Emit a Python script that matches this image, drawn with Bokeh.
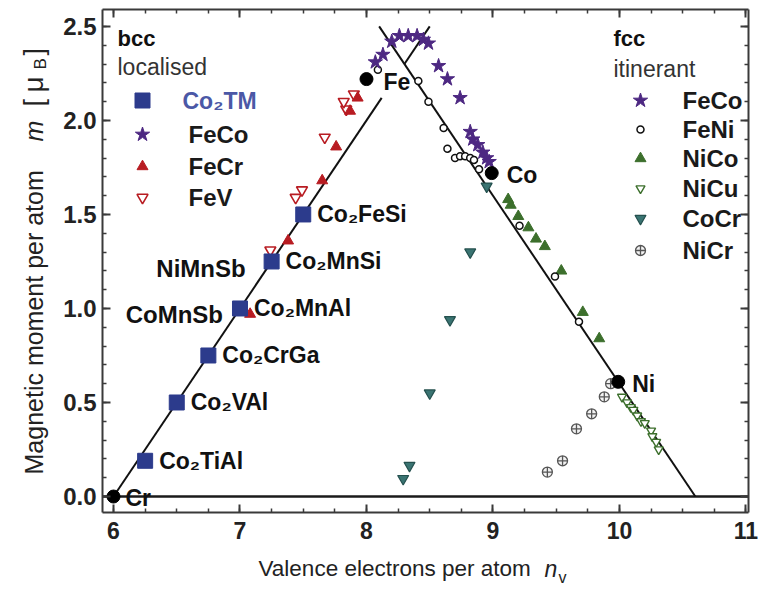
import math
from bokeh.plotting import figure
from bokeh.models import Range1d, LinearAxis, SingleIntervalTicker, PrintfTickFormatter
from bokeh.core.properties import value
from bokeh.embed import file_html
from bokeh.resources import INLINE

# ---------------- data ----------------
element_names = ["Cr", "Fe", "Co", "Ni"]
element_nv = [6.0, 8.0, 8.99, 9.99]
element_m = [0.0, 2.22, 1.72, 0.61]

heusler_names = ["Co₂TiAl", "Co₂VAl", "Co₂CrGa", "Co₂MnAl", "Co₂MnSi", "Co₂FeSi"]
heusler_nv = [6.25, 6.5, 6.75, 7.0, 7.25, 7.5]
heusler_m = [0.19, 0.5, 0.75, 1.0, 1.25, 1.5]

halfheusler_names = ["NiMnSb", "CoMnSb"]
halfheusler_nv = [7.25, 7.0]
halfheusler_m = [1.25, 1.0]

feco_bcc_nv = [8.07, 8.13, 8.20, 8.26, 8.33, 8.40, 8.45, 8.49]
feco_bcc_m = [2.31, 2.35, 2.42, 2.45, 2.45, 2.45, 2.43, 2.41]
fecr_nv = [7.08, 7.38, 7.65, 7.76, 7.87, 7.93]
fecr_m = [0.97, 1.36, 1.68, 1.86, 2.05, 2.12]
fev_nv = [7.24, 7.44, 7.49, 7.67, 7.84, 7.82, 7.90]
fev_m = [1.31, 1.59, 1.63, 1.91, 2.06, 2.10, 2.14]

feco_fcc_nv = [8.57, 8.64, 8.74, 8.82, 8.84, 8.88, 8.92, 8.95, 8.97]
feco_fcc_m = [2.29, 2.22, 2.12, 1.94, 1.90, 1.87, 1.83, 1.80, 1.78]
feni_nv = [8.09, 8.41, 8.49, 8.61, 8.64, 8.70, 8.74, 8.78, 8.82, 8.85, 8.89, 9.21, 9.49, 9.68]
feni_m = [2.27, 2.21, 2.10, 1.96, 1.85, 1.80, 1.81, 1.81, 1.80, 1.79, 1.74, 1.44, 1.17, 0.93]
nico_nv = [9.12, 9.14, 9.20, 9.28, 9.34, 9.41, 9.54, 9.71, 9.84]
nico_m = [1.58, 1.55, 1.49, 1.43, 1.37, 1.33, 1.20, 0.98, 0.84]
nicu_nv = [10.02, 10.06, 10.09, 10.11, 10.14, 10.17, 10.20, 10.25, 10.26, 10.29, 10.31]
nicu_m = [0.53, 0.50, 0.475, 0.46, 0.43, 0.40, 0.39, 0.35, 0.32, 0.29, 0.25]
cocr_nv = [8.95, 8.82, 8.66, 8.50, 8.34, 8.29]
cocr_m = [1.65, 1.30, 0.94, 0.55, 0.165, 0.095]
nicr_nv = [9.93, 9.88, 9.78, 9.66, 9.55, 9.43]
nicr_m = [0.60, 0.53, 0.44, 0.36, 0.19, 0.13]

# Slater-Pauling branches (end points)
local_nv_a = [6.0, 8.12]
local_m_a = [0.0, 2.12]
local_nv_b = [8.30, 8.50]
local_m_b = [2.30, 2.50]
itin_nv = [8.10, 10.60]
itin_m = [2.50, 0.0]

bcc_legend = ["Co₂TM", "FeCo", "FeCr", "FeV"]
fcc_legend = ["FeCo", "FeNi", "NiCo", "NiCu", "CoCr", "NiCr"]

x_ticks_interval = 1
y_ticks_interval = 0.5

# ---------------- layout ----------------
W, H = 758, 590
X_MIN, X_MAX = 5.913, 11.02      # visible box
Y_MIN, Y_MAX = -0.085, 2.59
FW, FH = 646, 503                 # box size in px
BL, BR, BT, BB = 102, 10, 9, 78   # box margins in px
KX = (X_MAX - X_MIN) / FW
KY = (Y_MAX - Y_MIN) / FH

def xd(px):
    return X_MIN + (px - BL) * KX

def yd(py):
    return Y_MAX - (py - BT) * KY

FONT_NAME = "Liberation Sans"
FONT = value(FONT_NAME)
PURPLE = "#4d2882"
BLUE = "#2c3b8c"
RED = "#b81c22"
GREEN = "#3c6f2c"
TEAL = "#3a7472"
GRAY = "#555555"
FRAME = "#3a3a3a"

p = figure(width=W, height=H,
           x_range=Range1d(xd(0), xd(W)), y_range=Range1d(yd(H), yd(0)),
           x_axis_type=None, y_axis_type=None,
           output_backend="svg", toolbar_location=None, min_border=0)
p.grid.visible = False
p.outline_line_color = None
p.background_fill_color = "white"
p.border_fill_color = "white"

def make_axis(loc, bounds, ticker, show_labels, formatter=None):
    ax = LinearAxis(fixed_location=loc, bounds=bounds, ticker=ticker)
    if formatter is not None:
        ax.formatter = formatter
    ax.major_tick_in = 8
    ax.major_tick_out = 0
    ax.minor_tick_in = 4
    ax.minor_tick_out = 0
    ax.axis_line_color = FRAME
    ax.axis_line_width = 2
    ax.major_tick_line_color = FRAME
    ax.major_tick_line_width = 2
    ax.minor_tick_line_color = FRAME
    ax.minor_tick_line_width = 1.5
    if show_labels:
        ax.major_label_text_font = FONT_NAME
        ax.major_label_text_font_style = "bold"
        ax.major_label_text_font_size = "23px"
        ax.major_label_text_color = "#222222"
    else:
        ax.major_label_text_font_size = "0px"
        ax.major_label_text_color = None
        ax.major_label_standoff = 0
    return ax

xt = lambda: SingleIntervalTicker(interval=x_ticks_interval, num_minor_ticks=4)
yt = lambda: SingleIntervalTicker(interval=y_ticks_interval, num_minor_ticks=5)

xb = make_axis(Y_MIN, (X_MIN, X_MAX), xt(), True)
xb.major_label_standoff = 9
p.add_layout(xb, "below")
p.add_layout(make_axis(Y_MAX, (X_MIN, X_MAX), xt(), False), "above")
yl = make_axis(X_MIN, (Y_MIN, Y_MAX), yt(), True, PrintfTickFormatter(format="%.1f"))
yl.major_label_standoff = 6
yl.major_label_text_font_size = "24px"
p.add_layout(yl, "left")
p.add_layout(make_axis(X_MAX, (Y_MIN, Y_MAX), yt(), False), "right")

# zero line across the box
p.line([X_MIN, X_MAX], [0, 0], line_color="#1a1a1a", line_width=2.5)

# Slater-Pauling lines
for xs, ys in [(local_nv_a, local_m_a), (local_nv_b, local_m_b), (itin_nv, itin_m)]:
    p.line(xs, ys, line_color="#111111", line_width=2)

# data points
p.scatter(fev_nv, fev_m, marker="inverted_triangle", size=11, fill_color="white", line_color=RED, line_width=1.6)
p.scatter(fecr_nv, fecr_m, marker="triangle", size=11, fill_color=RED, line_color=RED)
p.scatter(cocr_nv, cocr_m, marker="inverted_triangle", size=11, fill_color=TEAL, line_color="#24504e", line_width=1.2)
p.scatter(nicr_nv, nicr_m, marker="circle_cross", size=10, fill_color="#f2f2f2", line_color=GRAY, line_width=1.3)
p.scatter(nicu_nv, nicu_m, marker="inverted_triangle", size=9, fill_color="white", line_color=GREEN, line_width=1.4)
p.scatter(nico_nv, nico_m, marker="triangle", size=11, fill_color=GREEN, line_color=GREEN)
p.scatter(feni_nv, feni_m, marker="circle", size=7, fill_color="white", line_color="#111111", line_width=1.5)
p.scatter(feco_bcc_nv, feco_bcc_m, marker="star", size=15, fill_color=PURPLE, line_color=PURPLE)
p.scatter(feco_fcc_nv, feco_fcc_m, marker="star", size=15, fill_color=PURPLE, line_color=PURPLE)
p.scatter(heusler_nv, heusler_m, marker="square", size=15, fill_color=BLUE, line_color=BLUE)
p.scatter(element_nv, element_m, marker="circle", size=13, fill_color="black", line_color="black")

def txt(x, y, t, size="23px", style="bold", color="#111111", align="left",
        baseline="middle", xo=0, yo=0, angle=0.0):
    p.text(x=x, y=y, text=t, text_font=FONT, text_font_style=style, text_font_size=size,
           text_color=color, text_align=align, text_baseline=baseline,
           x_offset=xo, y_offset=yo, angle=angle)

# point labels
txt(element_nv[:1], element_m[:1], element_names[:1], xo=12, yo=1)
txt(element_nv[1:2], element_m[1:2], element_names[1:2], xo=17, yo=3)
txt(element_nv[2:3], element_m[2:3], element_names[2:3], xo=15, yo=2)
txt(element_nv[3:], element_m[3:], element_names[3:], xo=14, yo=2)
txt(heusler_nv, heusler_m, heusler_names, xo=14, yo=0)
txt(halfheusler_nv[:1], halfheusler_m[:1], halfheusler_names[:1], size="24px", align="right", xo=-26, yo=7)
txt(halfheusler_nv[1:], halfheusler_m[1:], halfheusler_names[1:], size="24px", align="right", xo=-17, yo=6)

# legend (bcc, left)
txt([xd(117)], [yd(38)], ["bcc"], size="22px", color="#111111")
txt([xd(117)], [yd(66)], ["localised"], style="normal", color="#333333")
lrows = [yd(100), yd(134), yd(166), yd(197)]
lx = xd(142)
p.scatter([lx], [lrows[0]], marker="square", size=15, fill_color=BLUE, line_color=BLUE)
p.scatter([lx], [lrows[1]], marker="star", size=15, fill_color=PURPLE, line_color=PURPLE)
p.scatter([lx], [lrows[2]], marker="triangle", size=11, fill_color=RED, line_color=RED)
p.scatter([lx], [lrows[3]], marker="inverted_triangle", size=11, fill_color="white", line_color=RED, line_width=1.6)
txt([xd(182)], [lrows[0]], [bcc_legend[0]], color="#4b58a6")
txt([xd(188)] * 3, lrows[1:], bcc_legend[1:], size="24px", color="#1a1a1a")

# legend (fcc, right)
txt([xd(613)], [yd(38)], ["fcc"], size="22px", color="#111111")
txt([xd(613)], [yd(68)], ["itinerant"], style="normal", color="#333333")
rrows = [yd(100), yd(129), yd(158), yd(188), yd(218), yd(250)]
rx = xd(640)
p.scatter([rx], [rrows[0]], marker="star", size=15, fill_color=PURPLE, line_color=PURPLE)
p.scatter([rx], [rrows[1]], marker="circle", size=7, fill_color="white", line_color="#111111", line_width=1.5)
p.scatter([rx], [rrows[2]], marker="triangle", size=11, fill_color=GREEN, line_color=GREEN)
p.scatter([rx], [rrows[3]], marker="inverted_triangle", size=9, fill_color="white", line_color=GREEN, line_width=1.4)
p.scatter([rx], [rrows[4]], marker="inverted_triangle", size=11, fill_color=TEAL, line_color="#24504e", line_width=1.2)
p.scatter([rx], [rrows[5]], marker="circle_cross", size=10, fill_color="#f2f2f2", line_color=GRAY, line_width=1.3)
txt([xd(682)] * 6, rrows, fcc_legend, size="24px", color="#1a1a1a")

# axis titles
TC = "#222222"
txt([xd(258)], [yd(568)], ["Valence electrons per atom"], size="22.5px", style="normal", color=TC)
txt([xd(544)], [yd(568)], ["n"], size="23px", style="italic", color=TC)
txt([xd(558)], [yd(577)], ["v"], size="16px", style="normal", color=TC)

A = math.pi / 2
txt([xd(33)], [yd(474)], ["Magnetic moment per atom"], size="25px", style="normal", color=TC, angle=A)
txt([xd(33)], [yd(141)], ["m"], size="25px", style="italic", color=TC, angle=A)
txt([xd(33)], [yd(106)], ["["], size="27px", style="normal", color=TC, angle=A)
txt([xd(33)], [yd(92)], ["μ"], size="28px", style="normal", color=TC, angle=A)
txt([xd(40)], [yd(69)], ["B"], size="17px", style="normal", color=TC, angle=A)
txt([xd(33)], [yd(55)], ["]"], size="27px", style="normal", color=TC, angle=A)

open("out.html", "w").write(file_html(p, INLINE))
